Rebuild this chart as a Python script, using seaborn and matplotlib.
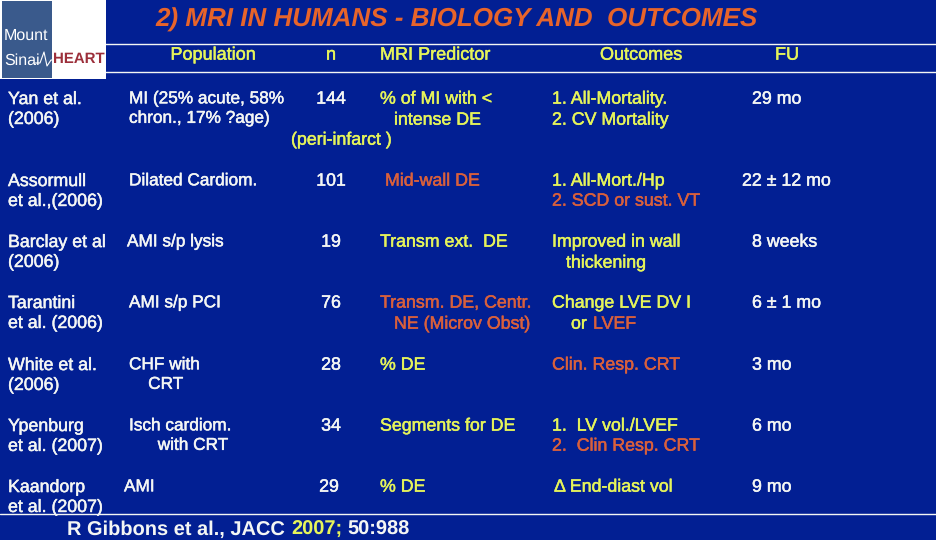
import matplotlib
matplotlib.use("Agg")
import matplotlib.pyplot as plt
import matplotlib.patheffects as pe
import seaborn as sn
from matplotlib.patches import Rectangle

sn.set_theme(style="white")
plt.rcParams['font.family'] = ['Liberation Sans', 'DejaVu Sans']
plt.rcParams['text.hinting'] = 'no_hinting'

BG = '#021f93'
WHITE = '#f4f6f4'
YEL = '#e6f45a'
ORG = '#d9603c'
TITLE = '#e8642a'
FS = 12.8

title = "2) MRI IN HUMANS - BIOLOGY AND  OUTCOMES"
headers = ["Population", "n", "MRI Predictor", "Outcomes", "FU"]
header_x = [213, 331, 435, 641, 787]

studies = ["Yan et al.\n(2006)", "Assormull\net al.,(2006)", "Barclay et al\n(2006)",
           "Tarantini\net al. (2006)", "White et al.\n(2006)", "Ypenburg\net al. (2007)",
           "Kaandorp\net al. (2007)"]
populations = ["MI (25% acute, 58%\nchron., 17% ?age)", "Dilated Cardiom.", "AMI s/p lysis",
               "AMI s/p PCI", "CHF with\n    CRT", "Isch cardiom.\n      with CRT", "AMI"]
n_values = ["144", "101", "19", "76", "28", "34", "29"]
follow_up = ["29 mo", "22 ± 12 mo", "8 weeks", "6 ± 1 mo", "3 mo", "6 mo", "9 mo"]
row_y = [98, 180, 241, 302, 364, 425, 486]
pop_x = [129, 129, 127, 129, 129, 129, 124]
n_x = [331, 331, 331, 331, 331, 331, 329]
fu_x = [752, 742, 752, 752, 752, 752, 752]

# (text, x, y, colour)
predictors = [("% of MI with <", 380, 98, YEL), ("intense DE", 394, 119, YEL),
              ("(peri-infarct )", 291, 139, YEL), ("Mid-wall DE", 385, 180, ORG),
              ("Transm ext.  DE", 380, 241, YEL), ("Transm. DE, Centr.", 380, 302, ORG),
              ("NE (Microv Obst)", 394, 323, ORG), ("% DE", 380, 364, YEL),
              ("Segments for DE", 380, 425, YEL), ("% DE", 380, 486, YEL)]
outcomes = [("1. All-Mortality.", 552, 98, YEL), ("2. CV Mortality", 552, 119, YEL),
            ("1. All-Mort./Hp", 552, 180, YEL), ("2. SCD or sust. VT", 552, 200, ORG),
            ("Improved in wall", 552, 241, YEL), ("thickening", 566, 262, YEL),
            ("Change LVE DV I", 552, 302, YEL), ("or", 571, 323, YEL), ("LVEF", 593, 323, ORG),
            ("Clin. Resp. CRT", 552, 364, ORG), ("1.  LV vol./LVEF", 552, 425, YEL),
            ("2.  Clin Resp. CRT", 552, 445, ORG), ("Δ End-diast vol", 554, 486, YEL)]

fig = plt.figure(figsize=(9.36, 5.4), dpi=100, facecolor=BG)
ax = fig.add_axes([0, 0, 1, 1])
ax.set_xlim(0, 936)
ax.set_ylim(540, 0)
ax.axis("off")


def put(x, y, s, c, size=FS, **kw):
    # thin stroke, the slide text looks a bit heavier than regular
    t = ax.text(x, y, s, color=c, fontsize=size, **kw)
    t.set_path_effects([pe.withStroke(linewidth=0.35, foreground=c)])
    return t


# rules
for y in [44, 72, 514]:
    ax.axhline(y, color=WHITE, lw=1)

# logo
ax.add_patch(Rectangle((0, 0), 106, 79, fc='white', ec='none', zorder=3))
ax.add_patch(Rectangle((2, 1), 50, 77, fc='#3a5a8c', ec='none', zorder=4))
ax.text(4, 36, "Mount", color='white', fontsize=11.5, va='center', zorder=5)
ax.text(4, 61, "Sinai", color='white', fontsize=11.5, va='center', zorder=5)
ax.plot([35, 40, 44, 47, 51, 54], [63, 63, 52, 66, 60, 60], color='white', lw=0.8, zorder=5)
ax.text(53, 59, "HEART", color='#9c2f3a', fontsize=10.8, va='center', weight='bold', zorder=5)

ax.text(457, 20, title, color=TITLE, fontsize=18.7, style='italic', weight='bold', ha='center', va='center')
for h, x in zip(headers, header_x):
    put(x, 55, h, YEL, size=13, ha='center', va='center')

for i, y in enumerate(row_y):
    put(8, y - 7, studies[i], WHITE, va='top', linespacing=1.24)
    put(pop_x[i], y - 7, populations[i], WHITE, size=12.4, va='top', linespacing=1.3)
    put(n_x[i], y + 1, n_values[i], WHITE, ha='center', va='center')
    put(fu_x[i], y + 1, follow_up[i], WHITE, va='center')

for txt, x, y, c in predictors + outcomes:
    put(x, y + 1, txt, c, va='center')

ax.text(67, 530, "R Gibbons et al., JACC", color=WHITE, fontsize=14.4, weight='bold', va='center')
ax.text(291, 530, "2007;", color=YEL, fontsize=14.4, weight='bold', va='center')
ax.text(347, 530, "50:988", color=WHITE, fontsize=14.4, weight='bold', va='center')

fig.savefig("out.png", dpi=100, facecolor=BG)
